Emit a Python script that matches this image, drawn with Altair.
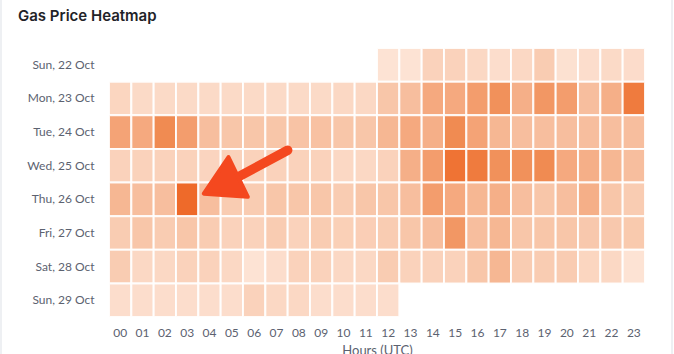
import altair as alt
import pandas as pd

days = ["Sun, 22 Oct", "Mon, 23 Oct", "Tue, 24 Oct", "Wed, 25 Oct",
        "Thu, 26 Oct", "Fri, 27 Oct", "Sat, 28 Oct", "Sun, 29 Oct"]
hours = ["00", "01", "02", "03", "04", "05", "06", "07", "08", "09", "10", "11",
         "12", "13", "14", "15", "16", "17", "18", "19", "20", "21", "22", "23"]

# relative gas price level per hour (None = no data)
sun22 = [None, None, None, None, None, None, None, None, None, None, None, None,
         1.0, 1.0, 2.5, 2.5, 2.0, 1.5, 2.0, 3.0, 1.2, 1.5, 1.8, 1.6]
mon23 = [2.2, 1.8, 1.8, 1.8, 1.8, 1.8, 1.8, 1.8, 1.8, 1.8, 2.0, 2.0,
         3.5, 4.0, 5.5, 5.5, 6.5, 7.5, 5.0, 7.0, 6.5, 4.0, 5.0, 9.0]
tue24 = [6.0, 5.5, 8.0, 6.5, 4.0, 3.5, 3.5, 3.5, 3.7, 3.8, 3.5, 3.5,
         4.5, 5.5, 5.0, 8.0, 6.0, 4.5, 4.0, 4.0, 4.0, 4.0, 4.0, 4.0]
wed25 = [2.5, 2.5, 2.5, 2.5, 2.3, 2.5, 2.5, 2.5, 2.5, 2.5, 2.0, 2.0,
         2.5, 5.0, 6.5, 9.5, 9.0, 7.5, 7.5, 8.0, 5.5, 5.0, 4.5, 4.0]
thu26 = [4.5, 4.0, 4.0, 10.0, 4.0, 3.0, 3.0, 3.5, 3.5, 3.5, 3.0, 3.5,
         3.5, 4.0, 6.5, 5.5, 4.5, 5.0, 4.0, 3.5, 4.0, 5.0, 3.5, 3.0]
fri27 = [3.0, 3.5, 3.0, 3.5, 3.0, 2.5, 2.5, 3.0, 2.5, 3.0, 2.7, 2.8,
         3.0, 3.5, 4.0, 7.0, 4.0, 4.5, 3.5, 3.5, 3.5, 3.3, 3.3, 3.2]
sat28 = [3.0, 2.0, 2.0, 2.5, 2.5, 2.0, 1.0, 1.5, 2.5, 2.5, 2.0, 2.0,
         3.0, 2.5, 2.5, 2.5, 3.5, 4.5, 3.0, 3.0, 3.0, 2.2, 2.0, 1.0]
sun29 = [1.5, 1.5, 1.5, 1.5, 1.5, 1.5, 2.5, 2.0, 2.0, 1.5, 1.5, 1.5,
         1.5, None, None, None, None, None, None, None, None, None, None, None]

rows = [sun22, mon23, tue24, wed25, thu26, fri27, sat28, sun29]

records = []
for day, vals in zip(days, rows):
    for hr, v in zip(hours, vals):
        if v is not None:
            records.append({"day": day, "hour": hr, "price": v})
df = pd.DataFrame(records)

# arrow annotation, in (hour, row) units
arrow_hour = [8.0, 5.6]
arrow_row = [3.04, 3.9]
head_hour = [5.27]
head_row = [4.0]
head_angle = [244]

arrow_df = pd.DataFrame({"h": arrow_hour, "r": arrow_row})
head_df = pd.DataFrame({"h": head_hour, "r": head_row, "a": head_angle})

label_color = "#5c6270"
arrow_color = "#F4481F"

heat = alt.Chart(df).mark_rect(stroke="white", strokeWidth=2, strokeOpacity=0.9).encode(
    x=alt.X("hour:O", sort=hours, scale=alt.Scale(domain=hours, paddingInner=0, paddingOuter=0),
            axis=alt.Axis(title="Hours (UTC)", labelAngle=0, labelPadding=10,
                          labelFontSize=12, labelColor=label_color, labelFont="Lato",
                          titleFont="Lato", titleFontSize=13, titleColor=label_color,
                          titleFontWeight="normal", titlePadding=6,
                          domain=False, ticks=False, grid=False)),
    y=alt.Y("day:O", sort=days, scale=alt.Scale(domain=days, paddingInner=0, paddingOuter=0),
            axis=alt.Axis(title=None, labelPadding=15, labelFontSize=12,
                          labelColor=label_color, labelFont="Lato",
                          domain=False, ticks=False, grid=False)),
    color=alt.Color("price:Q", legend=None,
                    scale=alt.Scale(domain=[0, 2, 3.5, 5, 8, 10],
                                    range=["#FEEEE5", "#FBD8C4", "#F8C6A9", "#F5AF88", "#F08B52", "#EE6A2A"])),
)

xs = alt.Scale(domain=[0, 24], nice=False, zero=False)
ys = alt.Scale(domain=[0, 8], nice=False, zero=False, reverse=True)

shaft = alt.Chart(arrow_df).mark_line(color=arrow_color, strokeWidth=9.5, strokeCap="round").encode(
    x=alt.X("h:Q", scale=xs, axis=None),
    y=alt.Y("r:Q", scale=ys, axis=None),
)

head = alt.Chart(head_df).mark_point(shape="triangle", filled=True, color=arrow_color,
                                     stroke=arrow_color, strokeWidth=4, strokeJoin="round",
                                     opacity=1, size=1950).encode(
    x=alt.X("h:Q", scale=xs, axis=None),
    y=alt.Y("r:Q", scale=ys, axis=None),
    angle=alt.Angle("a:Q", scale=None),
)

# faint card borders (decoration)
border_df = pd.DataFrame({"k": [0]})
border_l = alt.Chart(border_df).mark_rule(color="#e9ebef", strokeWidth=1.5).encode(
    x=alt.value(-108), y=alt.value(-48), y2=alt.value(306)
)
border_r = alt.Chart(border_df).mark_rule(color="#e9ebef", strokeWidth=1.5).encode(
    x=alt.value(563), y=alt.value(-48), y2=alt.value(306)
)

chart = alt.layer(heat, shaft, head, border_l, border_r).resolve_scale(x="independent", y="independent").properties(
    width=536, height=269,
    background="white",
    autosize=alt.AutoSizeParams(type="none"),
    padding={"left": 109, "top": 48, "right": 29, "bottom": 37},
    title=alt.TitleParams("Gas Price Heatmap", anchor="start", frame="group", dx=-91, offset=-25,
                          fontSize=15, fontWeight=600, font="Inter", color="#1f2328"),
).configure_view(strokeWidth=0)

chart.save("out.html", embed_options={"renderer": "svg", "actions": False})
